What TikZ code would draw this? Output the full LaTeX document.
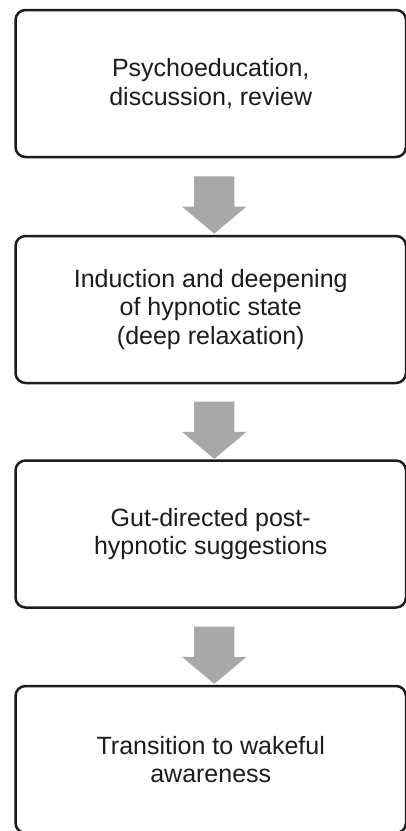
\documentclass[tikz,border=0pt]{standalone}
\usepackage{fontspec}
\setmainfont{Liberation Sans}
\usetikzlibrary{shapes.arrows,calc}
\definecolor{boxline}{HTML}{1C1C1C}
\definecolor{arrowgray}{HTML}{A8A8A8}
\begin{document}
\begin{tikzpicture}[x=1pt,y=1pt,line join=round,line cap=round,
	font=\fontsize{25}{28.5}\selectfont,
	stagebox/.style={draw=boxline,line width=2.5pt,rounded corners=10pt,
		minimum width=390.5pt,minimum height=147pt,align=center,text=boxline,inner sep=0pt},
	blockarrow/.style={single arrow,fill=arrowgray,draw=none,shape border rotate=270,
		minimum height=55pt,minimum width=64pt,single arrow head extend=12pt,
		single arrow tip angle=100,single arrow head indent=0pt,inner sep=20pt}]
		\useasboundingbox (0,0) rectangle (406,-831);
		\node[stagebox] (psycho) at (210.75,-83.5) {Psychoeducation,\\discussion, review};
		\node[stagebox] (induct) at (210.75,-309.5) {Induction and deepening\\of hypnotic state\\(deep relaxation)};
		\node[stagebox] (gut) at (210.75,-534) {Gut-directed post-\\hypnotic suggestions};
		\node[stagebox] (wake) at (210.75,-759.5) {Transition to wakeful\\awareness};
		\node[blockarrow] (arr1) at ($($(psycho.south)!0.5!(induct.north)$)+(3.5,0)$) {};
		\node[blockarrow] (arr2) at ($($(induct.south)!0.5!(gut.north)$)+(3.5,0)$) {};
		\node[blockarrow] (arr3) at ($($(gut.south)!0.5!(wake.north)$)+(3.5,0)$) {};
		\end{tikzpicture}
\end{document}
